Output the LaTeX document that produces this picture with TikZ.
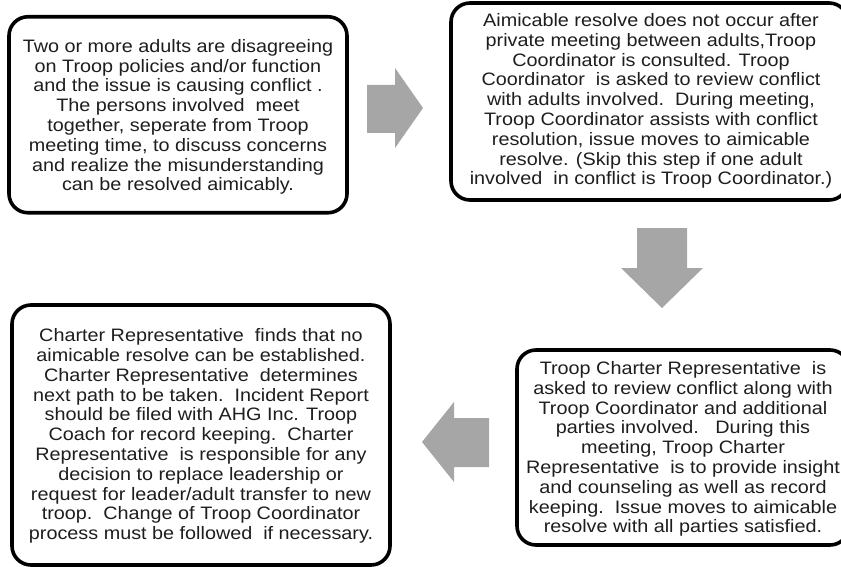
\documentclass[tikz,border=0pt]{standalone}
\usepackage{fontspec}
\setmainfont{Liberation Sans}[FakeStretch=1.1]
\definecolor{arrowgray}{HTML}{A6A6A6}
\definecolor{txt}{HTML}{1E1E1E}
\tikzset{
  stepbox/.style={draw=black, line width=3.6pt, rounded corners=19pt, fill=white},
  steptext/.style={align=center, inner sep=0pt, text=txt, font=\fontsize{18}{19.8}\selectfont},
  blockarrow/.style={fill=arrowgray, draw=none}
}
\begin{document}
\begin{tikzpicture}[x=1pt,y=-1pt]
\useasboundingbox (0,0) rectangle (841,567);
% boxes
\node[stepbox, minimum width=338pt, minimum height=196pt] (b1) at (178,114.75) {};
\node[stepbox, minimum width=397pt, minimum height=197pt] (b2) at (649.5,101.5) {};
\node[stepbox, minimum width=378pt, minimum height=260pt] (b3) at (201,435) {};
\node[stepbox, minimum width=332pt, minimum height=195pt] (b4) at (683,447.5) {};
% texts
\node[steptext] (t1) at (178,117) {Two or more adults are disagreeing\\on Troop policies and/or function\\and the issue is causing conflict .\\The persons involved\ \ meet\\together, seperate from Troop\\meeting time, to discuss concerns\\and realize the misunderstanding\\can be resolved aimicably.};
\node[steptext] (t2) at (651,101) {Aimicable resolve does not occur after\\private meeting between adults,Troop\\Coordinator is consulted. Troop\\Coordinator\ \ is asked to review conflict\\with adults involved.\ \ During meeting,\\Troop Coordinator assists with conflict\\resolution, issue moves to aimicable\\resolve. (Skip this step if one adult\\involved\ \ in conflict is Troop Coordinator.)};
\node[steptext] (t3) at (201,436) {Charter Representative\ \ finds that no\\aimicable resolve can be established.\\Charter Representative\ \ determines\\next path to be taken.\ \ Incident Report\\should be filed with AHG Inc. Troop\\Coach for record keeping.\ \ Charter\\Representative\ \ is responsible for any\\decision to replace leadership or\\request for leader/adult transfer to new\\troop.\ \ Change of Troop Coordinator\\process must be followed\ \ if necessary.};
\node[steptext] (t4) at (683,449) {Troop Charter Representative\ \ is\\asked to review conflict along with\\Troop Coordinator and additional\\parties involved.\ \ \ During this\\meeting, Troop Charter\\Representative\ \ is to provide insight\\and counseling as well as record\\keeping.\ \ Issue moves to aimicable\\resolve with all parties satisfied.};
% block arrows
\fill[blockarrow] (367,85) -- (395,85) -- (395,68) -- (423,108) -- (395,148) -- (395,133) -- (367,133) -- cycle;
\fill[blockarrow] (637,228) -- (687,228) -- (687,268) -- (703,268) -- (662,308) -- (621,268) -- (637,268) -- cycle;
\fill[blockarrow] (489,418) -- (454,418) -- (454,402) -- (422,442) -- (454,482) -- (454,467) -- (489,467) -- cycle;
\end{tikzpicture}
\end{document}
